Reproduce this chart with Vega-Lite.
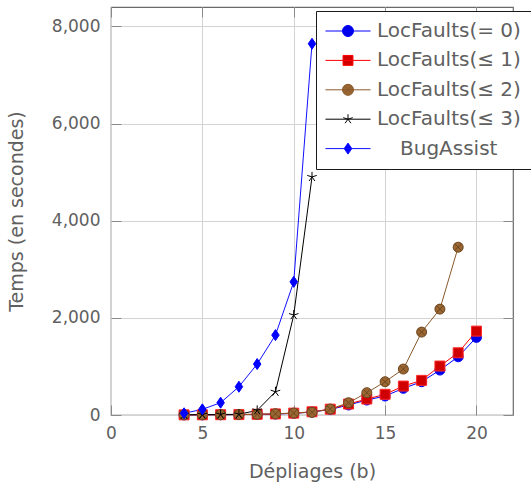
{
  "$schema": "https://vega.github.io/schema/vega-lite/v6.json",
  "width": 402,
  "height": 408,
  "autosize": {"type": "none"},
  "padding": {"left": 111, "top": 7, "right": 18, "bottom": 69},
  "config": {
    "view": {"stroke": "#6a6a6a", "strokeWidth": 1.2},
    "font": "DejaVu Sans",
    "axis": {
      "labelFont": "DejaVu Sans", "labelFontSize": 17, "labelColor": "#606060",
      "titleFont": "DejaVu Sans", "titleFontSize": 19, "titleFontWeight": "normal", "titleColor": "#606060",
      "gridColor": "#d3d3d3", "gridWidth": 1, "tickColor": "#8a8a8a", "tickSize": -10, "tickWidth": 1,
      "domain": false, "labelFlush": false, "labelOverlap": false
    }
  },
  "data": {"values": [
    {"b": 4, "t": 2, "s": "LocFaults(= 0)"}, {"b": 5, "t": 3, "s": "LocFaults(= 0)"}, {"b": 6, "t": 5, "s": "LocFaults(= 0)"}, {"b": 7, "t": 8, "s": "LocFaults(= 0)"}, {"b": 8, "t": 12, "s": "LocFaults(= 0)"}, {"b": 9, "t": 20, "s": "LocFaults(= 0)"}, {"b": 10, "t": 35, "s": "LocFaults(= 0)"}, {"b": 11, "t": 62, "s": "LocFaults(= 0)"}, {"b": 12, "t": 113, "s": "LocFaults(= 0)"}, {"b": 13, "t": 206, "s": "LocFaults(= 0)"}, {"b": 14, "t": 308, "s": "LocFaults(= 0)"}, {"b": 15, "t": 391, "s": "LocFaults(= 0)"}, {"b": 16, "t": 549, "s": "LocFaults(= 0)"}, {"b": 17, "t": 685, "s": "LocFaults(= 0)"}, {"b": 18, "t": 925, "s": "LocFaults(= 0)"}, {"b": 19, "t": 1199, "s": "LocFaults(= 0)"}, {"b": 20, "t": 1598, "s": "LocFaults(= 0)"},
    {"b": 4, "t": 3, "s": "LocFaults(≤ 1)"}, {"b": 5, "t": 4, "s": "LocFaults(≤ 1)"}, {"b": 6, "t": 6, "s": "LocFaults(≤ 1)"}, {"b": 7, "t": 9, "s": "LocFaults(≤ 1)"}, {"b": 8, "t": 14, "s": "LocFaults(≤ 1)"}, {"b": 9, "t": 22, "s": "LocFaults(≤ 1)"}, {"b": 10, "t": 38, "s": "LocFaults(≤ 1)"}, {"b": 11, "t": 66, "s": "LocFaults(≤ 1)"}, {"b": 12, "t": 120, "s": "LocFaults(≤ 1)"}, {"b": 13, "t": 226, "s": "LocFaults(≤ 1)"}, {"b": 14, "t": 329, "s": "LocFaults(≤ 1)"}, {"b": 15, "t": 426, "s": "LocFaults(≤ 1)"}, {"b": 16, "t": 596, "s": "LocFaults(≤ 1)"}, {"b": 17, "t": 713, "s": "LocFaults(≤ 1)"}, {"b": 18, "t": 1008, "s": "LocFaults(≤ 1)"}, {"b": 19, "t": 1281, "s": "LocFaults(≤ 1)"}, {"b": 20, "t": 1727, "s": "LocFaults(≤ 1)"},
    {"b": 4, "t": 4, "s": "LocFaults(≤ 2)"}, {"b": 5, "t": 5, "s": "LocFaults(≤ 2)"}, {"b": 6, "t": 7, "s": "LocFaults(≤ 2)"}, {"b": 7, "t": 10, "s": "LocFaults(≤ 2)"}, {"b": 8, "t": 16, "s": "LocFaults(≤ 2)"}, {"b": 9, "t": 25, "s": "LocFaults(≤ 2)"}, {"b": 10, "t": 40, "s": "LocFaults(≤ 2)"}, {"b": 11, "t": 55, "s": "LocFaults(≤ 2)"}, {"b": 12, "t": 123, "s": "LocFaults(≤ 2)"}, {"b": 13, "t": 253, "s": "LocFaults(≤ 2)"}, {"b": 14, "t": 459, "s": "LocFaults(≤ 2)"}, {"b": 15, "t": 685, "s": "LocFaults(≤ 2)"}, {"b": 16, "t": 946, "s": "LocFaults(≤ 2)"}, {"b": 17, "t": 1707, "s": "LocFaults(≤ 2)"}, {"b": 18, "t": 2180, "s": "LocFaults(≤ 2)"}, {"b": 19, "t": 3455, "s": "LocFaults(≤ 2)"},
    {"b": 4, "t": 5, "s": "LocFaults(≤ 3)"}, {"b": 5, "t": 7, "s": "LocFaults(≤ 3)"}, {"b": 6, "t": 10, "s": "LocFaults(≤ 3)"}, {"b": 7, "t": 15, "s": "LocFaults(≤ 3)"}, {"b": 8, "t": 95, "s": "LocFaults(≤ 3)"}, {"b": 9, "t": 479, "s": "LocFaults(≤ 3)"}, {"b": 10, "t": 2057, "s": "LocFaults(≤ 3)"}, {"b": 11, "t": 4901, "s": "LocFaults(≤ 3)"},
    {"b": 4, "t": 35, "s": "BugAssist"}, {"b": 5, "t": 117, "s": "BugAssist"}, {"b": 6, "t": 253, "s": "BugAssist"}, {"b": 7, "t": 582, "s": "BugAssist"}, {"b": 8, "t": 1049, "s": "BugAssist"}, {"b": 9, "t": 1645, "s": "BugAssist"}, {"b": 10, "t": 2741, "s": "BugAssist"}, {"b": 11, "t": 7644, "s": "BugAssist"}
  ]},
  "layer": [
    {
      "mark": {"type": "line", "strokeWidth": 1},
      "encoding": {
        "x": {"field": "b", "type": "quantitative", "scale": {"domain": [0, 22], "nice": false},
              "axis": {"orient": "bottom", "values": [0, 5, 10, 15, 20], "title": "Dépliages (b)", "grid": true, "labelPadding": 20, "titlePadding": 21}},
        "y": {"field": "t", "type": "quantitative", "scale": {"domain": [0, 8400], "nice": false},
              "axis": {"orient": "left", "values": [0, 2000, 4000, 6000, 8000], "format": ",d", "title": "Temps (en secondes)", "grid": true, "labelPadding": 21, "titlePadding": 25}},
        "stroke": {
          "field": "s", "type": "nominal",
          "scale": {"domain": ["LocFaults(= 0)", "LocFaults(≤ 1)", "LocFaults(≤ 2)", "LocFaults(≤ 3)", "BugAssist"],
                    "range": ["#0000ff", "#ff0000", "#8a5a2b", "#000000", "#1010ff"]},
          "legend": {
            "orient": "none", "legendX": 205, "legendY": 4, "title": null, "direction": "vertical",
            "labelFont": "DejaVu Sans", "labelFontSize": 20, "labelColor": "#606060", "labelLimit": 400,
            "padding": 10, "rowPadding": 9.4, "strokeColor": "#1a1a1a", "fillColor": "#ffffff",
            "symbolOffset": 12, "labelOffset": 19, "symbolSize": 121, "symbolStrokeWidth": 1,
            "encode": {
              "symbols": {"update": {
                "shape": {"signal": "datum.value === 'LocFaults(= 0)' ? 'M-4.1,0H4.1M1,0A1,1,0,1,1,-1,0A1,1,0,1,1,1,0Z' : datum.value === 'LocFaults(≤ 1)' ? 'M-4.1,0H4.1M-0.9,-0.9H0.9V0.9H-0.9Z' : datum.value === 'LocFaults(≤ 2)' ? 'M-4.1,0H4.1M1,0A1,1,0,1,1,-1,0A1,1,0,1,1,1,0ZM-0.7,-0.7L0.7,0.7M-0.7,0.7L0.7,-0.7' : datum.value === 'LocFaults(≤ 3)' ? 'M-4.1,0H4.1M0,0V-0.9M0,0L0.86,-0.28M0,0L0.53,0.73M0,0L-0.53,0.73M0,0L-0.86,-0.28' : 'M-4.1,0H4.1M0,-1L0.7,0L0,1L-0.7,0Z'"},
                "fill": {"signal": "datum.value === 'LocFaults(= 0)' ? '#0000e6' : datum.value === 'LocFaults(≤ 1)' ? '#d00000' : datum.value === 'LocFaults(≤ 2)' ? '#9a6632' : datum.value === 'LocFaults(≤ 3)' ? 'transparent' : '#0000ff'"},
                "stroke": {"signal": "datum.value === 'LocFaults(= 0)' ? '#0000ff' : datum.value === 'LocFaults(≤ 1)' ? '#ff0000' : datum.value === 'LocFaults(≤ 2)' ? '#8a5a2b' : datum.value === 'LocFaults(≤ 3)' ? '#000000' : '#1010ff'"},
                "strokeWidth": {"value": 1},
                "size": {"value": 121},
                "opacity": {"value": 1}
              }},
              "labels": {"update": {"dx": {"signal": "datum.value === 'BugAssist' ? 23 : 0"}}}
            }
          }
        }
      }
    },
    {
      "mark": {"type": "point", "filled": true, "size": 100, "strokeWidth": 1, "opacity": 1},
      "encoding": {
        "x": {"field": "b", "type": "quantitative",
              "axis": {"orient": "top", "values": [0, 5, 10, 15, 20], "labels": false, "grid": false, "title": null}},
        "y": {"field": "t", "type": "quantitative",
              "axis": {"orient": "right", "values": [0, 2000, 4000, 6000, 8000], "labels": false, "grid": false, "title": null}},
        "shape": {"field": "s", "type": "nominal", "legend": null,
                  "scale": {"domain": ["LocFaults(= 0)", "LocFaults(≤ 1)", "LocFaults(≤ 2)", "LocFaults(≤ 3)", "BugAssist"],
                            "range": ["circle", "square", "M1,0A1,1,0,1,1,-1,0A1,1,0,1,1,1,0ZM-0.7,-0.7L0.7,0.7M-0.7,0.7L0.7,-0.7", "M0,0V-1M0,0L0.95,-0.31M0,0L0.59,0.81M0,0L-0.59,0.81M0,0L-0.95,-0.31", "M0,-1.1L0.75,0L0,1.1L-0.75,0Z"]}},
        "fill": {"field": "s", "type": "nominal", "legend": null,
                 "scale": {"domain": ["LocFaults(= 0)", "LocFaults(≤ 1)", "LocFaults(≤ 2)", "LocFaults(≤ 3)", "BugAssist"],
                           "range": ["#0000e6", "#d00000", "#9a6632", "transparent", "#0000ff"]}},
        "stroke": {"field": "s", "type": "nominal", "legend": null,
                   "scale": {"domain": ["LocFaults(= 0)", "LocFaults(≤ 1)", "LocFaults(≤ 2)", "LocFaults(≤ 3)", "BugAssist"],
                             "range": ["#0000ff", "#ff2a2a", "#6e4720", "#000000", "#0000ff"]}}
      }
    }
  ],
  "resolve": {"axis": {"x": "independent", "y": "independent"}, "scale": {"stroke": "independent"}}
}
